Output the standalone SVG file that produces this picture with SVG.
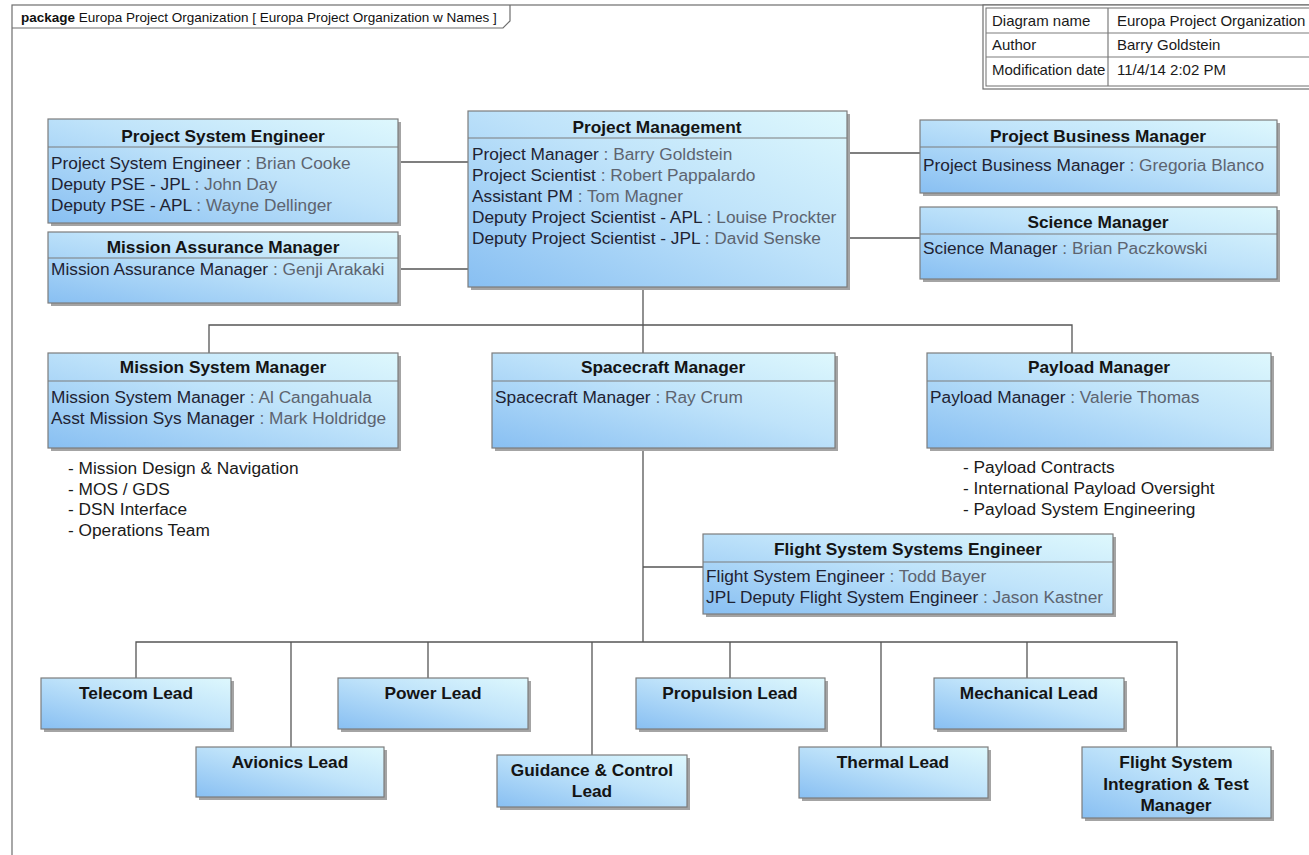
<svg xmlns="http://www.w3.org/2000/svg" width="1309" height="855" viewBox="0 0 1309 855">
  <defs>
    <linearGradient id="fillGrad" x1="0" y1="1" x2="1" y2="0">
      <stop offset="0" stop-color="#88bff2"/>
      <stop offset="0.55" stop-color="#bfe3fa"/>
      <stop offset="1" stop-color="#def8fd"/>
    </linearGradient>
    <clipPath id="tableClip">
      <rect x="983" y="5" width="326" height="84"/>
    </clipPath>
    <style>
      .frame { fill: none; stroke: #6e6e6e; stroke-width: 1.2; }
      .tabtxt { font-family: "Liberation Sans", Arial, sans-serif; font-size: 13.5px; fill: #111; }
      .tbl { fill: #fff; stroke: #6e6e6e; stroke-width: 1.2; }
      .tbltxt { font-family: "Liberation Sans", Arial, sans-serif; font-size: 15px; fill: #1a1a1a; }
      .shadow { fill: #a4a4a4; }
      .box { fill: url(#fillGrad); stroke: #7c7c7c; stroke-width: 1.2; }
      .sep { stroke: #7c7c7c; stroke-width: 1.2; }
      .hd { font-family: "Liberation Sans", Arial, sans-serif; font-size: 17.3px; font-weight: bold; fill: #141414; text-anchor: middle; }
      .bd { font-family: "Liberation Sans", Arial, sans-serif; font-size: 17.3px; fill: #1f2333; }
      .v { fill: #5d6470; }
      .note { font-family: "Liberation Sans", Arial, sans-serif; font-size: 17.3px; fill: #1a1a1a; }
      .wire { fill: none; stroke: #555; stroke-width: 1.3; }
    </style>
  </defs>

  <rect width="1309" height="855" fill="#fff"/>

  <!-- package frame and name tab -->
  <g id="frame">
    <rect class="frame" x="12" y="5" width="1400" height="900"/>
    <path class="frame" d="M12 28 H503 L510 21 V5"/>
    <text class="tabtxt" x="21" y="22"><tspan font-weight="bold">package</tspan>  Europa Project Organization [ Europa Project Organization w Names ]</text>
  </g>

  <!-- diagram info table (runs past the right edge) -->
  <g id="info-table">
    <rect class="tbl" x="983" y="5" width="340" height="84"/>
    <rect fill="none" stroke="#6e6e6e" stroke-width="1" x="986" y="8" width="340" height="78"/>
    <line class="sep" x1="986" y1="33" x2="1309" y2="33"/>
    <line class="sep" x1="986" y1="57" x2="1309" y2="57"/>
    <line class="sep" x1="1108" y1="8" x2="1108" y2="86"/>
    <g clip-path="url(#tableClip)">
      <text class="tbltxt" x="992" y="26">Diagram name</text>
      <text class="tbltxt" x="1117" y="26">Europa Project Organization w Names</text>
      <text class="tbltxt" x="992" y="50">Author</text>
      <text class="tbltxt" x="1117" y="50">Barry Goldstein</text>
      <text class="tbltxt" x="992" y="75">Modification date</text>
      <text class="tbltxt" x="1117" y="75">11/4/14 2:02 PM</text>
    </g>
  </g>

  <!-- connectors -->
  <g id="connectors">
    <path class="wire" d="M398 162 H468"/>
    <path class="wire" d="M398 269 H468"/>
    <path class="wire" d="M847 153 H920"/>
    <path class="wire" d="M847 238 H920"/>
    <path class="wire" d="M643 287 V325"/>
    <path class="wire" d="M209 353 V325 H1072 V353"/>
    <path class="wire" d="M643 325 V353"/>
    <path class="wire" d="M643 448 V642"/>
    <path class="wire" d="M643 567 H703"/>
    <path class="wire" d="M136 678 V642 H1177 V747"/>
    <path class="wire" d="M291 642 V747"/>
    <path class="wire" d="M428 642 V678"/>
    <path class="wire" d="M592 642 V755"/>
    <path class="wire" d="M730 642 V678"/>
    <path class="wire" d="M881 642 V747"/>
    <path class="wire" d="M1027 642 V678"/>
  </g>

  <!-- upper management -->
  <g id="project-system-engineer">
    <rect class="shadow" x="51" y="122" width="350" height="104"/>
    <rect class="box" x="48" y="119" width="350" height="104"/>
    <line class="sep" x1="48" y1="147" x2="398" y2="147"/>
    <text class="hd" x="223" y="142">Project System Engineer</text>
    <text class="bd" x="51" y="169">Project System Engineer<tspan class="v"> : Brian Cooke</tspan></text>
    <text class="bd" x="51" y="190">Deputy PSE - JPL<tspan class="v"> : John Day</tspan></text>
    <text class="bd" x="51" y="211">Deputy PSE - APL<tspan class="v"> : Wayne Dellinger</tspan></text>
  </g>

  <g id="mission-assurance-manager">
    <rect class="shadow" x="51" y="235" width="350" height="71"/>
    <rect class="box" x="48" y="232" width="350" height="71"/>
    <line class="sep" x1="48" y1="258" x2="398" y2="258"/>
    <text class="hd" x="223" y="253">Mission Assurance Manager</text>
    <text class="bd" x="51" y="275">Mission Assurance Manager<tspan class="v"> : Genji Arakaki</tspan></text>
  </g>

  <g id="project-management">
    <rect class="shadow" x="471" y="114" width="379" height="176"/>
    <rect class="box" x="468" y="111" width="379" height="176"/>
    <line class="sep" x1="468" y1="138" x2="847" y2="138"/>
    <text class="hd" x="657" y="133">Project Management</text>
    <text class="bd" x="472" y="160">Project Manager<tspan class="v"> : Barry Goldstein</tspan></text>
    <text class="bd" x="472" y="181">Project Scientist<tspan class="v"> : Robert Pappalardo</tspan></text>
    <text class="bd" x="472" y="202">Assistant PM<tspan class="v"> : Tom Magner</tspan></text>
    <text class="bd" x="472" y="223">Deputy Project Scientist - APL<tspan class="v"> : Louise Prockter</tspan></text>
    <text class="bd" x="472" y="244">Deputy Project Scientist - JPL<tspan class="v"> : David Senske</tspan></text>
  </g>

  <g id="project-business-manager">
    <rect class="shadow" x="923" y="123" width="357" height="73"/>
    <rect class="box" x="920" y="120" width="357" height="73"/>
    <line class="sep" x1="920" y1="147" x2="1277" y2="147"/>
    <text class="hd" x="1098" y="142">Project Business Manager</text>
    <text class="bd" x="923" y="171">Project Business Manager<tspan class="v"> : Gregoria Blanco</tspan></text>
  </g>

  <g id="science-manager">
    <rect class="shadow" x="923" y="210" width="357" height="72"/>
    <rect class="box" x="920" y="207" width="357" height="72"/>
    <line class="sep" x1="920" y1="234" x2="1277" y2="234"/>
    <text class="hd" x="1098" y="228">Science Manager</text>
    <text class="bd" x="923" y="254">Science Manager<tspan class="v"> : Brian Paczkowski</tspan></text>
  </g>

  <!-- second tier -->
  <g id="mission-system-manager">
    <rect class="shadow" x="51" y="356" width="350" height="95"/>
    <rect class="box" x="48" y="353" width="350" height="95"/>
    <line class="sep" x1="48" y1="381" x2="398" y2="381"/>
    <text class="hd" x="223" y="373">Mission System Manager</text>
    <text class="bd" x="51" y="403">Mission System Manager<tspan class="v"> : Al Cangahuala</tspan></text>
    <text class="bd" x="51" y="424">Asst Mission Sys Manager<tspan class="v"> : Mark Holdridge</tspan></text>
  </g>
  <g id="mission-system-notes">
    <text class="note" x="68" y="474">- Mission Design &amp; Navigation</text>
    <text class="note" x="68" y="495">- MOS / GDS</text>
    <text class="note" x="68" y="515">- DSN Interface</text>
    <text class="note" x="68" y="536">- Operations Team</text>
  </g>

  <g id="spacecraft-manager">
    <rect class="shadow" x="495" y="356" width="343" height="95"/>
    <rect class="box" x="492" y="353" width="343" height="95"/>
    <line class="sep" x1="492" y1="381" x2="835" y2="381"/>
    <text class="hd" x="663" y="373">Spacecraft Manager</text>
    <text class="bd" x="495" y="403">Spacecraft Manager<tspan class="v"> : Ray Crum</tspan></text>
  </g>

  <g id="payload-manager">
    <rect class="shadow" x="930" y="356" width="344" height="95"/>
    <rect class="box" x="927" y="353" width="344" height="95"/>
    <line class="sep" x1="927" y1="381" x2="1271" y2="381"/>
    <text class="hd" x="1099" y="373">Payload Manager</text>
    <text class="bd" x="930" y="403">Payload Manager<tspan class="v"> : Valerie Thomas</tspan></text>
  </g>
  <g id="payload-notes">
    <text class="note" x="963" y="473">- Payload Contracts</text>
    <text class="note" x="963" y="494">- International Payload Oversight</text>
    <text class="note" x="963" y="515">- Payload System Engineering</text>
  </g>

  <g id="flight-system-systems-engineer">
    <rect class="shadow" x="706" y="537" width="410" height="80"/>
    <rect class="box" x="703" y="534" width="410" height="80"/>
    <line class="sep" x1="703" y1="562" x2="1113" y2="562"/>
    <text class="hd" x="908" y="555">Flight System Systems Engineer</text>
    <text class="bd" x="706" y="582">Flight System Engineer<tspan class="v"> : Todd Bayer</tspan></text>
    <text class="bd" x="706" y="603">JPL Deputy Flight System Engineer<tspan class="v"> : Jason Kastner</tspan></text>
  </g>

  <!-- subsystem leads -->
  <g id="telecom-lead">
    <rect class="shadow" x="44" y="681" width="190" height="51"/>
    <rect class="box" x="41" y="678" width="190" height="51"/>
    <text class="hd" x="136" y="699">Telecom Lead</text>
  </g>
  <g id="avionics-lead">
    <rect class="shadow" x="199" y="750" width="188" height="50"/>
    <rect class="box" x="196" y="747" width="188" height="50"/>
    <text class="hd" x="290" y="768">Avionics Lead</text>
  </g>
  <g id="power-lead">
    <rect class="shadow" x="341" y="681" width="190" height="51"/>
    <rect class="box" x="338" y="678" width="190" height="51"/>
    <text class="hd" x="433" y="699">Power Lead</text>
  </g>
  <g id="guidance-control-lead">
    <rect class="shadow" x="500" y="758" width="190" height="52"/>
    <rect class="box" x="497" y="755" width="190" height="52"/>
    <text class="hd" x="592" y="776">Guidance &amp; Control</text>
    <text class="hd" x="592" y="797">Lead</text>
  </g>
  <g id="propulsion-lead">
    <rect class="shadow" x="639" y="681" width="189" height="51"/>
    <rect class="box" x="636" y="678" width="189" height="51"/>
    <text class="hd" x="730" y="699">Propulsion Lead</text>
  </g>
  <g id="thermal-lead">
    <rect class="shadow" x="802" y="750" width="189" height="51"/>
    <rect class="box" x="799" y="747" width="189" height="51"/>
    <text class="hd" x="893" y="768">Thermal Lead</text>
  </g>
  <g id="mechanical-lead">
    <rect class="shadow" x="937" y="681" width="190" height="51"/>
    <rect class="box" x="934" y="678" width="190" height="51"/>
    <text class="hd" x="1029" y="699">Mechanical Lead</text>
  </g>
  <g id="flight-system-itm">
    <rect class="shadow" x="1085" y="750" width="189" height="71"/>
    <rect class="box" x="1082" y="747" width="189" height="71"/>
    <text class="hd" x="1176" y="768">Flight System</text>
    <text class="hd" x="1176" y="790">Integration &amp; Test</text>
    <text class="hd" x="1176" y="811">Manager</text>
  </g>
</svg>
